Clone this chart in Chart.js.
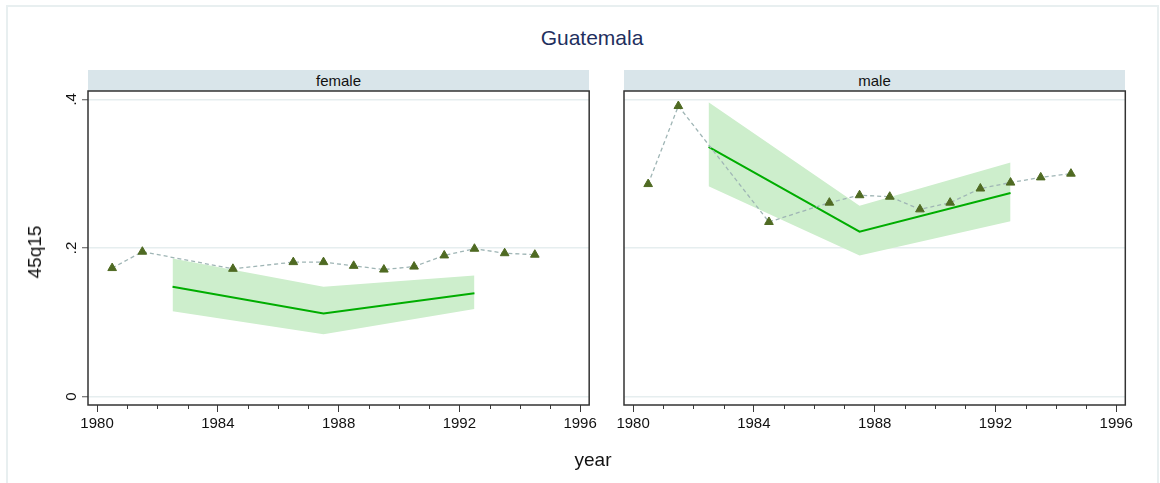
<!DOCTYPE html>
<html>
<head>
<meta charset="utf-8">
<script src="https://cdn.jsdelivr.net/npm/chart.js@4.4.1/dist/chart.umd.min.js"></script>
<style>
  html, body { margin: 0; padding: 0; background: #ffffff; }
  #wrap { position: relative; width: 1160px; height: 483px; overflow: hidden; background: #fff;
          font-family: 'Liberation Sans', Arial, sans-serif; }
  #frame { position: absolute; left: 6px; top: 5px; width: 1153px; height: 500px;
           border: 2px solid #e8eff0; box-sizing: border-box; }
  canvas { position: absolute; top: 0; }
  .strip { position: absolute; top: 70px; height: 21px; background: #d9e5ea; color: #111;
           font-size: 15px; line-height: 21px; text-align: center; }
  .txt { position: absolute; white-space: nowrap; color: #111; }
</style>
</head>
<body>
<div id="wrap">
  <div id="frame"></div>
  <div class="txt" id="title" style="left:0;width:1184px;top:26px;text-align:center;font-size:21px;color:#1f2f5e;">Guatemala</div>
  <div class="strip" style="left:88px;width:501px;">female</div>
  <div class="strip" style="left:624px;width:501px;">male</div>
  <canvas id="female" width="600" height="483" style="left:0;"></canvas>
  <canvas id="male" width="560" height="483" style="left:600px;"></canvas>
  <div class="txt" style="left:35px;top:252px;font-size:19px;transform:translate(-50%,-50%) rotate(-90deg);">45q15</div>
  <div class="txt" style="left:593px;top:460px;font-size:19px;transform:translate(-50%,-50%);">year</div>
</div>
<script>
// Observed 45q15 by year
const years = [1980.5, 1981.5, 1984.5, 1986.5, 1987.5, 1988.5, 1989.5, 1990.5, 1991.5, 1992.5, 1993.5, 1994.5];
const femaleObserved = [0.173, 0.195, 0.172, 0.181, 0.181, 0.176, 0.171, 0.175, 0.190, 0.199, 0.193, 0.191];
const maleObserved   = [0.286, 0.391, 0.235, 0.261, 0.271, 0.269, 0.252, 0.261, 0.280, 0.288, 0.295, 0.300];

// Fitted trend with its uncertainty band
const fitYears    = [1982.5, 1987.5, 1992.5];
const femaleFit   = [0.148, 0.112, 0.139];
const femaleLower = [0.115, 0.084, 0.118];
const femaleUpper = [0.186, 0.148, 0.163];
const maleFit     = [0.336, 0.222, 0.274];
const maleLower   = [0.283, 0.190, 0.236];
const maleUpper   = [0.396, 0.257, 0.315];

// Axis ticks
const xMajorTicks = [1980, 1984, 1988, 1992, 1996];
const xMinorTicks = [1981, 1982, 1983, 1985, 1986, 1987, 1989, 1990, 1991, 1993, 1994, 1995];
const yTicks = [0, 0.2, 0.4];
const yTickLabels = ['0', '.2', '.4'];

Chart.defaults.font.family = "'Liberation Sans', Arial, sans-serif";
Chart.defaults.color = '#111';

const pts = (xs, ys) => xs.map((x, i) => ({ x, y: ys[i] }));

// Box around the plot region, minor year ticks and rotated y labels
const panelDecor = {
  id: 'panelDecor',
  afterDraw(chart, args, opts) {
    const { ctx, chartArea: a, scales } = chart;
    ctx.save();
    ctx.strokeStyle = '#3a3a3a';
    ctx.lineWidth = 1;
    xMinorTicks.forEach(v => {
      const px = Math.round(scales.x.getPixelForValue(v)) + 0.5;
      ctx.beginPath();
      ctx.moveTo(px, a.bottom);
      ctx.lineTo(px, a.bottom + 4);
      ctx.stroke();
    });
    ctx.lineWidth = 1.5;
    ctx.strokeStyle = '#333';
    ctx.strokeRect(a.left, a.top, a.right - a.left, a.bottom - a.top);
    if (opts.yLabels) {
      ctx.fillStyle = '#111';
      ctx.font = "15px 'Liberation Sans', Arial, sans-serif";
      ctx.textAlign = 'center';
      ctx.textBaseline = 'alphabetic';
      yTicks.forEach((v, i) => {
        const py = scales.y.getPixelForValue(v);
        ctx.save();
        ctx.translate(a.left - 12, py);
        ctx.rotate(-Math.PI / 2);
        ctx.fillText(yTickLabels[i], 0, 0);
        ctx.restore();
      });
    }
    ctx.restore();
  }
};

function makePanel(id, obs, fit, lower, upper, withYAxis, leftWidth, rightPad) {
  return new Chart(document.getElementById(id), {
    type: 'line',
    data: {
      datasets: [
        {
          data: pts(years, obs), order: 0,
          borderColor: '#9fb5b5', borderWidth: 1.3, borderDash: [4, 3],
          pointStyle: 'triangle', pointRadius: 5, pointBackgroundColor: '#4f6a22',
          pointBorderColor: '#4f6a22', pointBorderWidth: 1, fill: false, tension: 0
        },
        {
          data: pts(fitYears, fit), order: 1,
          borderColor: '#00ad00', borderWidth: 2, pointRadius: 0, fill: false, tension: 0
        },
        {
          data: pts(fitYears, upper), order: 2,
          borderWidth: 0, borderColor: 'rgba(0,0,0,0)', pointRadius: 0,
          backgroundColor: '#cdeecc', fill: '+1', tension: 0
        },
        {
          data: pts(fitYears, lower), order: 3,
          borderWidth: 0, borderColor: 'rgba(0,0,0,0)', pointRadius: 0, fill: false, tension: 0
        }
      ]
    },
    options: {
      responsive: false, animation: false, devicePixelRatio: 1,
      layout: { padding: { top: 91, right: rightPad, bottom: 48, left: 0 } },
      plugins: { legend: { display: false }, tooltip: { enabled: false }, title: { display: false },
                 panelDecor: { yLabels: withYAxis } },
      scales: {
        x: {
          type: 'linear', min: 1979.7, max: 1996.3,
          afterBuildTicks: s => { s.ticks = xMajorTicks.map(v => ({ value: v })); },
          afterFit: s => { s.height = 30; },
          border: { display: false },
          grid: { drawOnChartArea: false, drawTicks: true, tickLength: 7, tickColor: '#3a3a3a', tickWidth: 1 },
          ticks: { autoSkip: false, maxRotation: 0, minRotation: 0, padding: 3, color: '#111',
                   font: { size: 15 }, callback: v => String(v) }
        },
        y: {
          type: 'linear', min: -0.0112, max: 0.4112,
          afterBuildTicks: s => { s.ticks = yTicks.map(v => ({ value: v })); },
          afterFit: s => { s.width = leftWidth; },
          border: { display: false },
          grid: { color: '#e6eeef', lineWidth: 1.5, drawTicks: withYAxis, tickLength: 6,
                  tickColor: '#555', tickWidth: 1 },
          ticks: { display: false }
        }
      }
    },
    plugins: [panelDecor]
  });
}

makePanel('female', femaleObserved, femaleFit, femaleLower, femaleUpper, true, 88, 10.7);
makePanel('male', maleObserved, maleFit, maleLower, maleUpper, false, 24, 34.7);
</script>
</body>
</html>
